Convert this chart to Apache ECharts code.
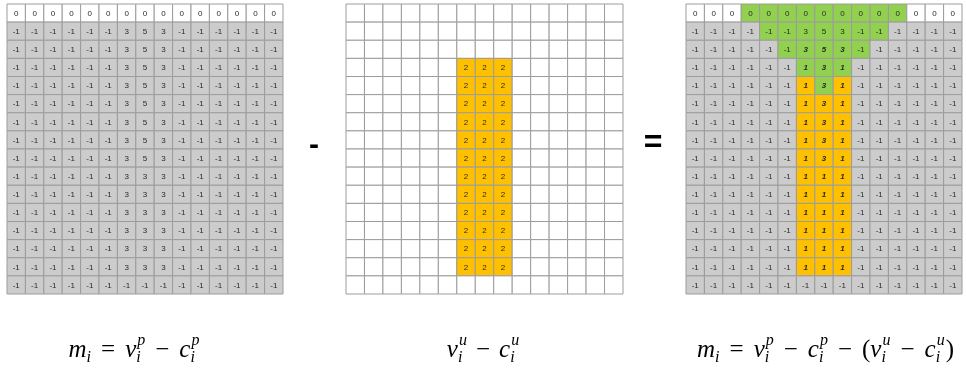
<!DOCTYPE html>
<html>
<head>
<meta charset="utf-8">
<script src="https://cdn.jsdelivr.net/npm/echarts@6/dist/echarts.min.js"></script>
<style>
  html, body { margin: 0; padding: 0; background: #fff; }
  #chart { width: 966px; height: 371px; }
</style>
</head>
<body>
<div id="chart"></div>
<script>
// column / row categories of the 15 x 16 grids
const colCats = ['0','1','2','3','4','5','6','7','8','9','10','11','12','13','14'];
const rowCats = ['0','1','2','3','4','5','6','7','8','9','10','11','12','13','14','15'];

// left grid: v_i^p - c_i^p
const leftValues = [
  [ 0, 0, 0, 0, 0, 0, 0, 0, 0, 0, 0, 0, 0, 0, 0],
  [-1,-1,-1,-1,-1,-1, 3, 5, 3,-1,-1,-1,-1,-1,-1],
  [-1,-1,-1,-1,-1,-1, 3, 5, 3,-1,-1,-1,-1,-1,-1],
  [-1,-1,-1,-1,-1,-1, 3, 5, 3,-1,-1,-1,-1,-1,-1],
  [-1,-1,-1,-1,-1,-1, 3, 5, 3,-1,-1,-1,-1,-1,-1],
  [-1,-1,-1,-1,-1,-1, 3, 5, 3,-1,-1,-1,-1,-1,-1],
  [-1,-1,-1,-1,-1,-1, 3, 5, 3,-1,-1,-1,-1,-1,-1],
  [-1,-1,-1,-1,-1,-1, 3, 5, 3,-1,-1,-1,-1,-1,-1],
  [-1,-1,-1,-1,-1,-1, 3, 5, 3,-1,-1,-1,-1,-1,-1],
  [-1,-1,-1,-1,-1,-1, 3, 3, 3,-1,-1,-1,-1,-1,-1],
  [-1,-1,-1,-1,-1,-1, 3, 3, 3,-1,-1,-1,-1,-1,-1],
  [-1,-1,-1,-1,-1,-1, 3, 3, 3,-1,-1,-1,-1,-1,-1],
  [-1,-1,-1,-1,-1,-1, 3, 3, 3,-1,-1,-1,-1,-1,-1],
  [-1,-1,-1,-1,-1,-1, 3, 3, 3,-1,-1,-1,-1,-1,-1],
  [-1,-1,-1,-1,-1,-1, 3, 3, 3,-1,-1,-1,-1,-1,-1],
  [-1,-1,-1,-1,-1,-1,-1,-1,-1,-1,-1,-1,-1,-1,-1]
];
const leftFills = [
  'wwwwwwwwwwwwwww',
  'sssssssssssssss', 'sssssssssssssss', 'sssssssssssssss', 'sssssssssssssss',
  'sssssssssssssss', 'sssssssssssssss', 'sssssssssssssss', 'sssssssssssssss',
  'sssssssssssssss', 'sssssssssssssss', 'sssssssssssssss', 'sssssssssssssss',
  'sssssssssssssss', 'sssssssssssssss', 'sssssssssssssss'
];

// middle grid: v_i^u - c_i^u (empty cells are null)
const n = null;
const midValues = [
  [n,n,n,n,n,n,n,n,n,n,n,n,n,n,n],
  [n,n,n,n,n,n,n,n,n,n,n,n,n,n,n],
  [n,n,n,n,n,n,n,n,n,n,n,n,n,n,n],
  [n,n,n,n,n,n,2,2,2,n,n,n,n,n,n],
  [n,n,n,n,n,n,2,2,2,n,n,n,n,n,n],
  [n,n,n,n,n,n,2,2,2,n,n,n,n,n,n],
  [n,n,n,n,n,n,2,2,2,n,n,n,n,n,n],
  [n,n,n,n,n,n,2,2,2,n,n,n,n,n,n],
  [n,n,n,n,n,n,2,2,2,n,n,n,n,n,n],
  [n,n,n,n,n,n,2,2,2,n,n,n,n,n,n],
  [n,n,n,n,n,n,2,2,2,n,n,n,n,n,n],
  [n,n,n,n,n,n,2,2,2,n,n,n,n,n,n],
  [n,n,n,n,n,n,2,2,2,n,n,n,n,n,n],
  [n,n,n,n,n,n,2,2,2,n,n,n,n,n,n],
  [n,n,n,n,n,n,2,2,2,n,n,n,n,n,n],
  [n,n,n,n,n,n,n,n,n,n,n,n,n,n,n]
];
const midFills = [
  'wwwwwwwwwwwwwww', 'wwwwwwwwwwwwwww', 'wwwwwwwwwwwwwww',
  'wwwwwwooowwwwww', 'wwwwwwooowwwwww', 'wwwwwwooowwwwww', 'wwwwwwooowwwwww',
  'wwwwwwooowwwwww', 'wwwwwwooowwwwww', 'wwwwwwooowwwwww', 'wwwwwwooowwwwww',
  'wwwwwwooowwwwww', 'wwwwwwooowwwwww', 'wwwwwwooowwwwww', 'wwwwwwooowwwwww',
  'wwwwwwwwwwwwwww'
];

// right grid: result m_i
const rightValues = [
  [ 0, 0, 0, 0, 0, 0, 0, 0, 0, 0, 0, 0, 0, 0, 0],
  [-1,-1,-1,-1,-1,-1, 3, 5, 3,-1,-1,-1,-1,-1,-1],
  [-1,-1,-1,-1,-1,-1, 3, 5, 3,-1,-1,-1,-1,-1,-1],
  [-1,-1,-1,-1,-1,-1, 1, 3, 1,-1,-1,-1,-1,-1,-1],
  [-1,-1,-1,-1,-1,-1, 1, 3, 1,-1,-1,-1,-1,-1,-1],
  [-1,-1,-1,-1,-1,-1, 1, 3, 1,-1,-1,-1,-1,-1,-1],
  [-1,-1,-1,-1,-1,-1, 1, 3, 1,-1,-1,-1,-1,-1,-1],
  [-1,-1,-1,-1,-1,-1, 1, 3, 1,-1,-1,-1,-1,-1,-1],
  [-1,-1,-1,-1,-1,-1, 1, 3, 1,-1,-1,-1,-1,-1,-1],
  [-1,-1,-1,-1,-1,-1, 1, 1, 1,-1,-1,-1,-1,-1,-1],
  [-1,-1,-1,-1,-1,-1, 1, 1, 1,-1,-1,-1,-1,-1,-1],
  [-1,-1,-1,-1,-1,-1, 1, 1, 1,-1,-1,-1,-1,-1,-1],
  [-1,-1,-1,-1,-1,-1, 1, 1, 1,-1,-1,-1,-1,-1,-1],
  [-1,-1,-1,-1,-1,-1, 1, 1, 1,-1,-1,-1,-1,-1,-1],
  [-1,-1,-1,-1,-1,-1, 1, 1, 1,-1,-1,-1,-1,-1,-1],
  [-1,-1,-1,-1,-1,-1,-1,-1,-1,-1,-1,-1,-1,-1,-1]
];
const rightFills = [
  'wwwgggggggggwww',
  'ssssgggggggssss',
  'sssssgggggsssss',
  'ssssssgggssssss',
  'ssssssogossssss',
  'ssssssooossssss', 'ssssssooossssss', 'ssssssooossssss', 'ssssssooossssss',
  'ssssssooossssss', 'ssssssooossssss', 'ssssssooossssss', 'ssssssooossssss',
  'ssssssooossssss', 'ssssssooossssss',
  'sssssssssssssss'
];
// cells written in bold italic in the result grid
const rightItalic = [
  '...............', '...............',
  '......xxx......', '......xxx......', '......xxx......', '......xxx......',
  '......xxx......', '......xxx......', '......xxx......', '......xxx......',
  '......xxx......', '......xxx......', '......xxx......', '......xxx......',
  '......xxx......', '...............'
];

// formulas under the grids (op entries: text, space on each side)
const formulaLeft  = [['m'], ['_', 'i'], ['op', '=', 10], ['v'], ['^_', 'p', 'i'], ['op', '\u2212', 10], ['c'], ['^_', 'p', 'i']];
const formulaMid   = [['v'], ['^_', 'u', 'i'], ['op', '\u2212', 9], ['c'], ['^_', 'u', 'i']];
const formulaRight = [['m'], ['_', 'i'], ['op', '=', 10], ['v'], ['^_', 'p', 'i'], ['op', '\u2212', 10], ['c'], ['^_', 'p', 'i'],
  ['op', '\u2212', 10], ['op', '(', 0], ['v'], ['^_', 'u', 'i'], ['op', '\u2212', 10], ['c'], ['^_', 'u', 'i'], ['op', ')', 1]];

const fillColors = { w: '#ffffff', s: '#cccccc', g: '#92d050', o: '#ffc000' };

function buildData(values) {
  let data = [];
  for (let r = 0; r < values.length; r++) {
    for (let c = 0; c < values[r].length; c++) {
      data.push([c, r]);
    }
  }
  return data;
}

function cellRenderer(values, fills, italic) {
  return function (params, api) {
    let col = api.value(0), row = api.value(1);
    let p = api.coord([col, row]);
    let s = api.size([1, 1]);
    let v = values[row][col];
    let bold = italic && italic[row][col] === 'x';
    let children = [{
      type: 'rect',
      shape: { x: p[0] - s[0] / 2, y: p[1] - s[1] / 2, width: s[0], height: s[1] },
      style: { fill: fillColors[fills[row][col]], stroke: '#9c9c9c', lineWidth: 1 }
    }];
    if (v !== null) {
      children.push({
        type: 'text',
        x: p[0], y: p[1] + 0.5,
        style: {
          text: String(v),
          fill: '#2a2a2a',
          font: (bold ? 'italic bold ' : '') + '8px "Liberation Sans", Arial, sans-serif',
          align: 'center',
          verticalAlign: 'middle'
        }
      });
    }
    return { type: 'group', children: children };
  };
}

// lay out a formula as a row of text pieces, centred on cx
const measureCtx = document.createElement('canvas').getContext('2d');
const baseFont = 'italic 25px "Liberation Serif", serif';
const opFont   = '25px "Liberation Serif", serif';
const smallFont = 'italic 16px "Liberation Serif", serif';

function textWidth(txt, font) {
  measureCtx.font = font;
  return measureCtx.measureText(txt).width;
}

function formulaGraphics(parts, cx, cy) {
  let pieces = [];
  let x = 0;
  parts.forEach(function (p) {
    if (p[0] === 'op') {
      x += p[2];
      pieces.push({ t: p[1], font: opFont, x: x, dy: 0 });
      x += textWidth(p[1], opFont) + p[2];
    } else if (p[0] === '_') {
      pieces.push({ t: p[1], font: smallFont, x: x, dy: 8 });
      x += textWidth(p[1], smallFont);
    } else if (p[0] === '^_') {
      pieces.push({ t: p[1], font: smallFont, x: x + 1, dy: -9 });
      pieces.push({ t: p[2], font: smallFont, x: x, dy: 8 });
      x += Math.max(textWidth(p[1], smallFont) + 1, textWidth(p[2], smallFont));
    } else {
      pieces.push({ t: p[0], font: baseFont, x: x, dy: 0 });
      x += textWidth(p[0], baseFont);
    }
  });
  let x0 = cx - x / 2;
  return pieces.map(function (pc) {
    return {
      type: 'text',
      x: x0 + pc.x,
      y: cy + pc.dy,
      style: { text: pc.t, font: pc.font, fill: '#000', align: 'left', verticalAlign: 'middle' }
    };
  });
}

const grids = [
  { left: 7,   top: 4, width: 276, height: 290 },
  { left: 346, top: 4, width: 277, height: 290 },
  { left: 686, top: 4, width: 276, height: 290 }
];

let xAxes = [], yAxes = [];
for (let i = 0; i < 3; i++) {
  xAxes.push({ type: 'category', gridIndex: i, data: colCats, show: false });
  yAxes.push({ type: 'category', gridIndex: i, data: rowCats, inverse: true, show: false });
}

const option = {
  animation: false,
  grid: grids,
  xAxis: xAxes,
  yAxis: yAxes,
  series: [
    { type: 'custom', xAxisIndex: 0, yAxisIndex: 0, data: buildData(leftValues),  renderItem: cellRenderer(leftValues, leftFills) },
    { type: 'custom', xAxisIndex: 1, yAxisIndex: 1, data: buildData(midValues),   renderItem: cellRenderer(midValues, midFills) },
    { type: 'custom', xAxisIndex: 2, yAxisIndex: 2, data: buildData(rightValues), renderItem: cellRenderer(rightValues, rightFills, rightItalic) }
  ],
  graphic: [
    { type: 'text', x: 314, y: 146, style: { text: '-', font: 'bold 30px "Liberation Sans", Arial, sans-serif', fill: '#000', align: 'center', verticalAlign: 'middle' } },
    { type: 'text', x: 653, y: 143, style: { text: '=', font: 'bold 32px "Liberation Sans", Arial, sans-serif', fill: '#000', align: 'center', verticalAlign: 'middle' } }
  ].concat(formulaGraphics(formulaLeft, 134, 350))
   .concat(formulaGraphics(formulaMid, 483, 350))
   .concat(formulaGraphics(formulaRight, 826, 350))
};

const chart = echarts.init(document.getElementById('chart'));
chart.setOption(option);
</script>
</body>
</html>
